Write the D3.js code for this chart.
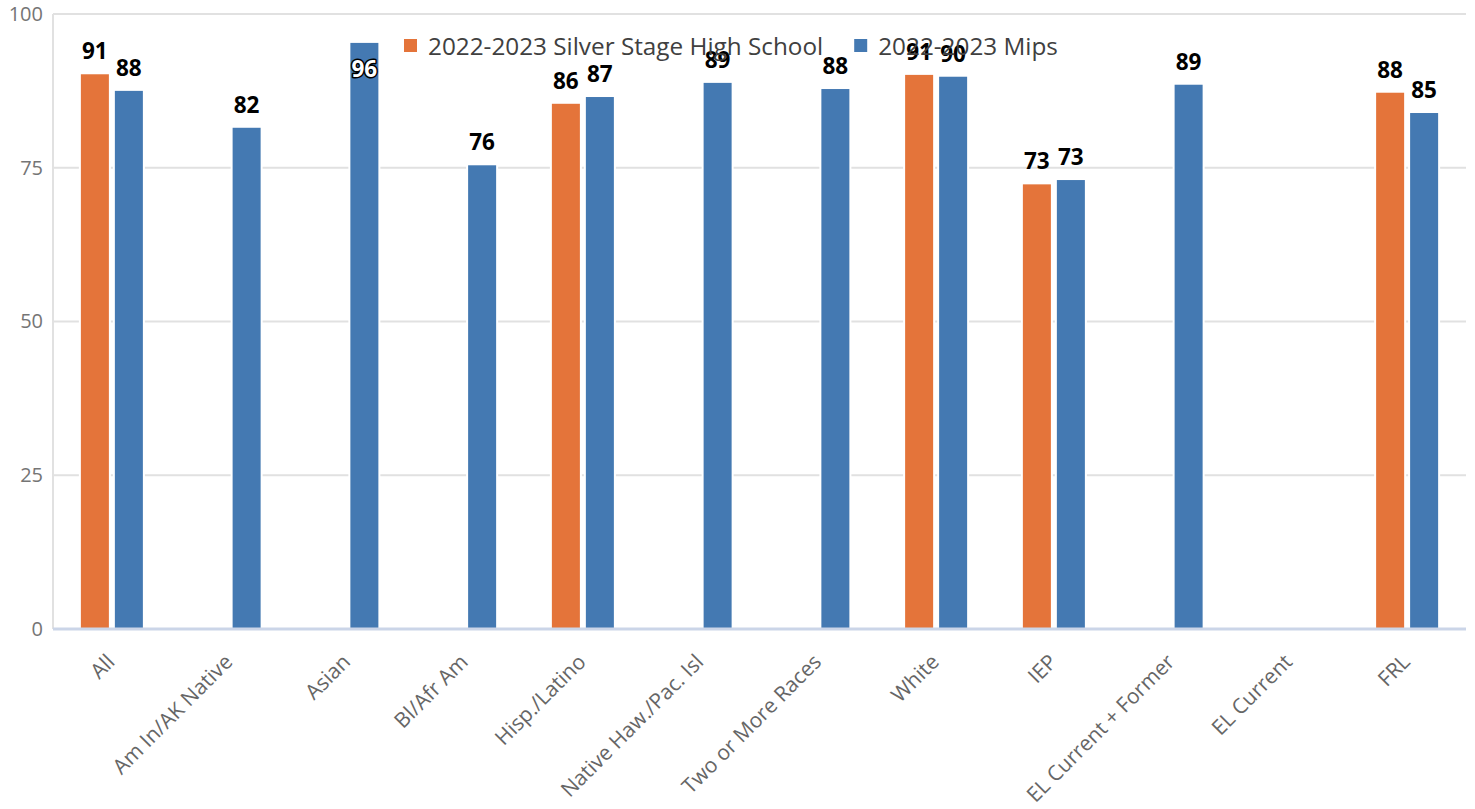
<!DOCTYPE html>
<html>
<head>
<meta charset="utf-8">
<script src="https://cdn.jsdelivr.net/npm/d3@7"></script>
<style>
  html, body { margin: 0; padding: 0; background: #fff; }
  svg { display: block; font-family: "Open Sans", "Noto Sans", sans-serif; }
</style>
</head>
<body>
<svg id="chart" width="1475" height="809"></svg>
<script>
const categories = ["All", "Am In/AK Native", "Asian", "Bl/Afr Am", "Hisp./Latino", "Native Haw./Pac. Isl",
  "Two or More Races", "White", "IEP", "EL Current + Former", "EL Current", "FRL"];
const seriesNames = ["2022-2023 Silver Stage High School", "2022-2023 Mips"];
// bar heights (null = no bar)
const schoolValues = [90.2, null, null, null, 85.4, null, null, 90.1, 72.3, null, null, 87.2];
const mipsValues   = [87.5, 81.5, 95.3, 75.4, 86.5, 88.8, 87.8, 89.8, 73.0, 88.5, null, 83.9];
// data labels as printed in the picture
const schoolLabels = ["91", null, null, null, "86", null, null, "91", "73", null, null, "88"];
const mipsLabels   = ["88", "82", "96", "76", "87", "89", "88", "90", "73", "89", null, "85"];
const yTicks = [0, 25, 50, 75, 100];
const colors = ["#E4743A", "#4479B2"];

const svg = d3.select("#chart");
const plot = { left: 53, right: 1466, top: 14, bottom: 629 };

const x0 = d3.scaleBand().domain(categories).range([plot.left, plot.right]).paddingInner(0).paddingOuter(0);
const x1 = d3.scaleBand().domain([0, 1]).range([0, x0.bandwidth()]).paddingInner(0.176).paddingOuter(0.82);
const y = d3.scaleLinear().domain([0, 100]).range([plot.bottom, plot.top]);

// gridlines
svg.append("g").selectAll("line").data(yTicks.filter(d => d > 0)).join("line")
  .attr("x1", plot.left).attr("x2", plot.right)
  .attr("y1", d => y(d)).attr("y2", d => y(d))
  .attr("stroke", "#e1e1e1").attr("stroke-width", 2);

// left axis line
svg.append("line").attr("x1", plot.left).attr("x2", plot.left)
  .attr("y1", plot.top).attr("y2", plot.bottom)
  .attr("stroke", "#e1e1e1").attr("stroke-width", 2);

// y axis labels
const yAxis = d3.axisLeft(y).tickValues(yTicks).tickSize(0).tickPadding(10);
const yg = svg.append("g").attr("transform", `translate(${plot.left},0)`).call(yAxis);
yg.select(".domain").remove();
yg.selectAll("text").attr("font-size", 20).attr("fill", "#757575")
  .attr("font-family", "'Open Sans', sans-serif");

// bars
const series = [schoolValues, mipsValues];
const labelsArr = [schoolLabels, mipsLabels];
const bars = [];
series.forEach((vals, si) => {
  vals.forEach((v, i) => {
    if (v == null) return;
    bars.push({ si, cat: categories[i], v, label: labelsArr[si][i] });
  });
});

svg.append("g").selectAll("rect").data(bars).join("rect")
  .attr("x", d => x0(d.cat) + x1(d.si))
  .attr("width", x1.bandwidth())
  .attr("y", d => y(d.v))
  .attr("height", d => y(0) - y(d.v))
  .attr("fill", d => colors[d.si])
  .attr("stroke", "#fff").attr("stroke-width", 4)
  .style("paint-order", "stroke");

// x axis line
svg.append("line").attr("x1", plot.left).attr("x2", plot.right)
  .attr("y1", plot.bottom).attr("y2", plot.bottom)
  .attr("stroke", "#cbd5e8").attr("stroke-width", 3);

// x axis labels
const xg = svg.append("g");
categories.forEach(c => {
  const cx = x0(c) + x0.bandwidth() / 2;
  xg.append("text")
    .attr("transform", `translate(${cx - 1},${plot.bottom + 29}) rotate(-45)`)
    .attr("text-anchor", "end")
    .attr("dy", "0.35em")
    .attr("font-size", 21)
    .attr("fill", "#666")
    .text(c);
});

// data labels
const lg = svg.append("g");
bars.forEach(d => {
  if (!d.label) return;
  const cx = x0(d.cat) + x1(d.si) + x1.bandwidth() / 2;
  const top = y(d.v);
  const fs = 22.5;
  const fitsAbove = (top - 15 - fs * 0.75) >= plot.top;
  if (fitsAbove) {
    lg.append("text").attr("x", cx).attr("y", top - 15)
      .attr("text-anchor", "middle").attr("font-size", fs).attr("font-weight", 700)
      .attr("fill", "#000").text(d.label);
  } else {
    lg.append("text").attr("x", cx).attr("y", top + 34)
      .attr("text-anchor", "middle").attr("font-size", fs).attr("font-weight", 700)
      .attr("fill", "#fff").attr("stroke", "#000").attr("stroke-width", 3)
      .style("paint-order", "stroke").attr("stroke-linejoin", "round").text(d.label);
  }
});

// legend
const legend = svg.append("g");
let lx = 404;
seriesNames.forEach((name, i) => {
  legend.append("rect").attr("x", lx).attr("y", 39).attr("width", 13).attr("height", 13)
    .attr("fill", colors[i]);
  const t = legend.append("text").attr("x", lx + 24).attr("y", 46).attr("dy", "0.35em")
    .attr("font-size", 24.3).attr("fill", "#404040").text(name);
  lx = lx + 24 + t.node().getComputedTextLength() + 31;
});
</script>
</body>
</html>
